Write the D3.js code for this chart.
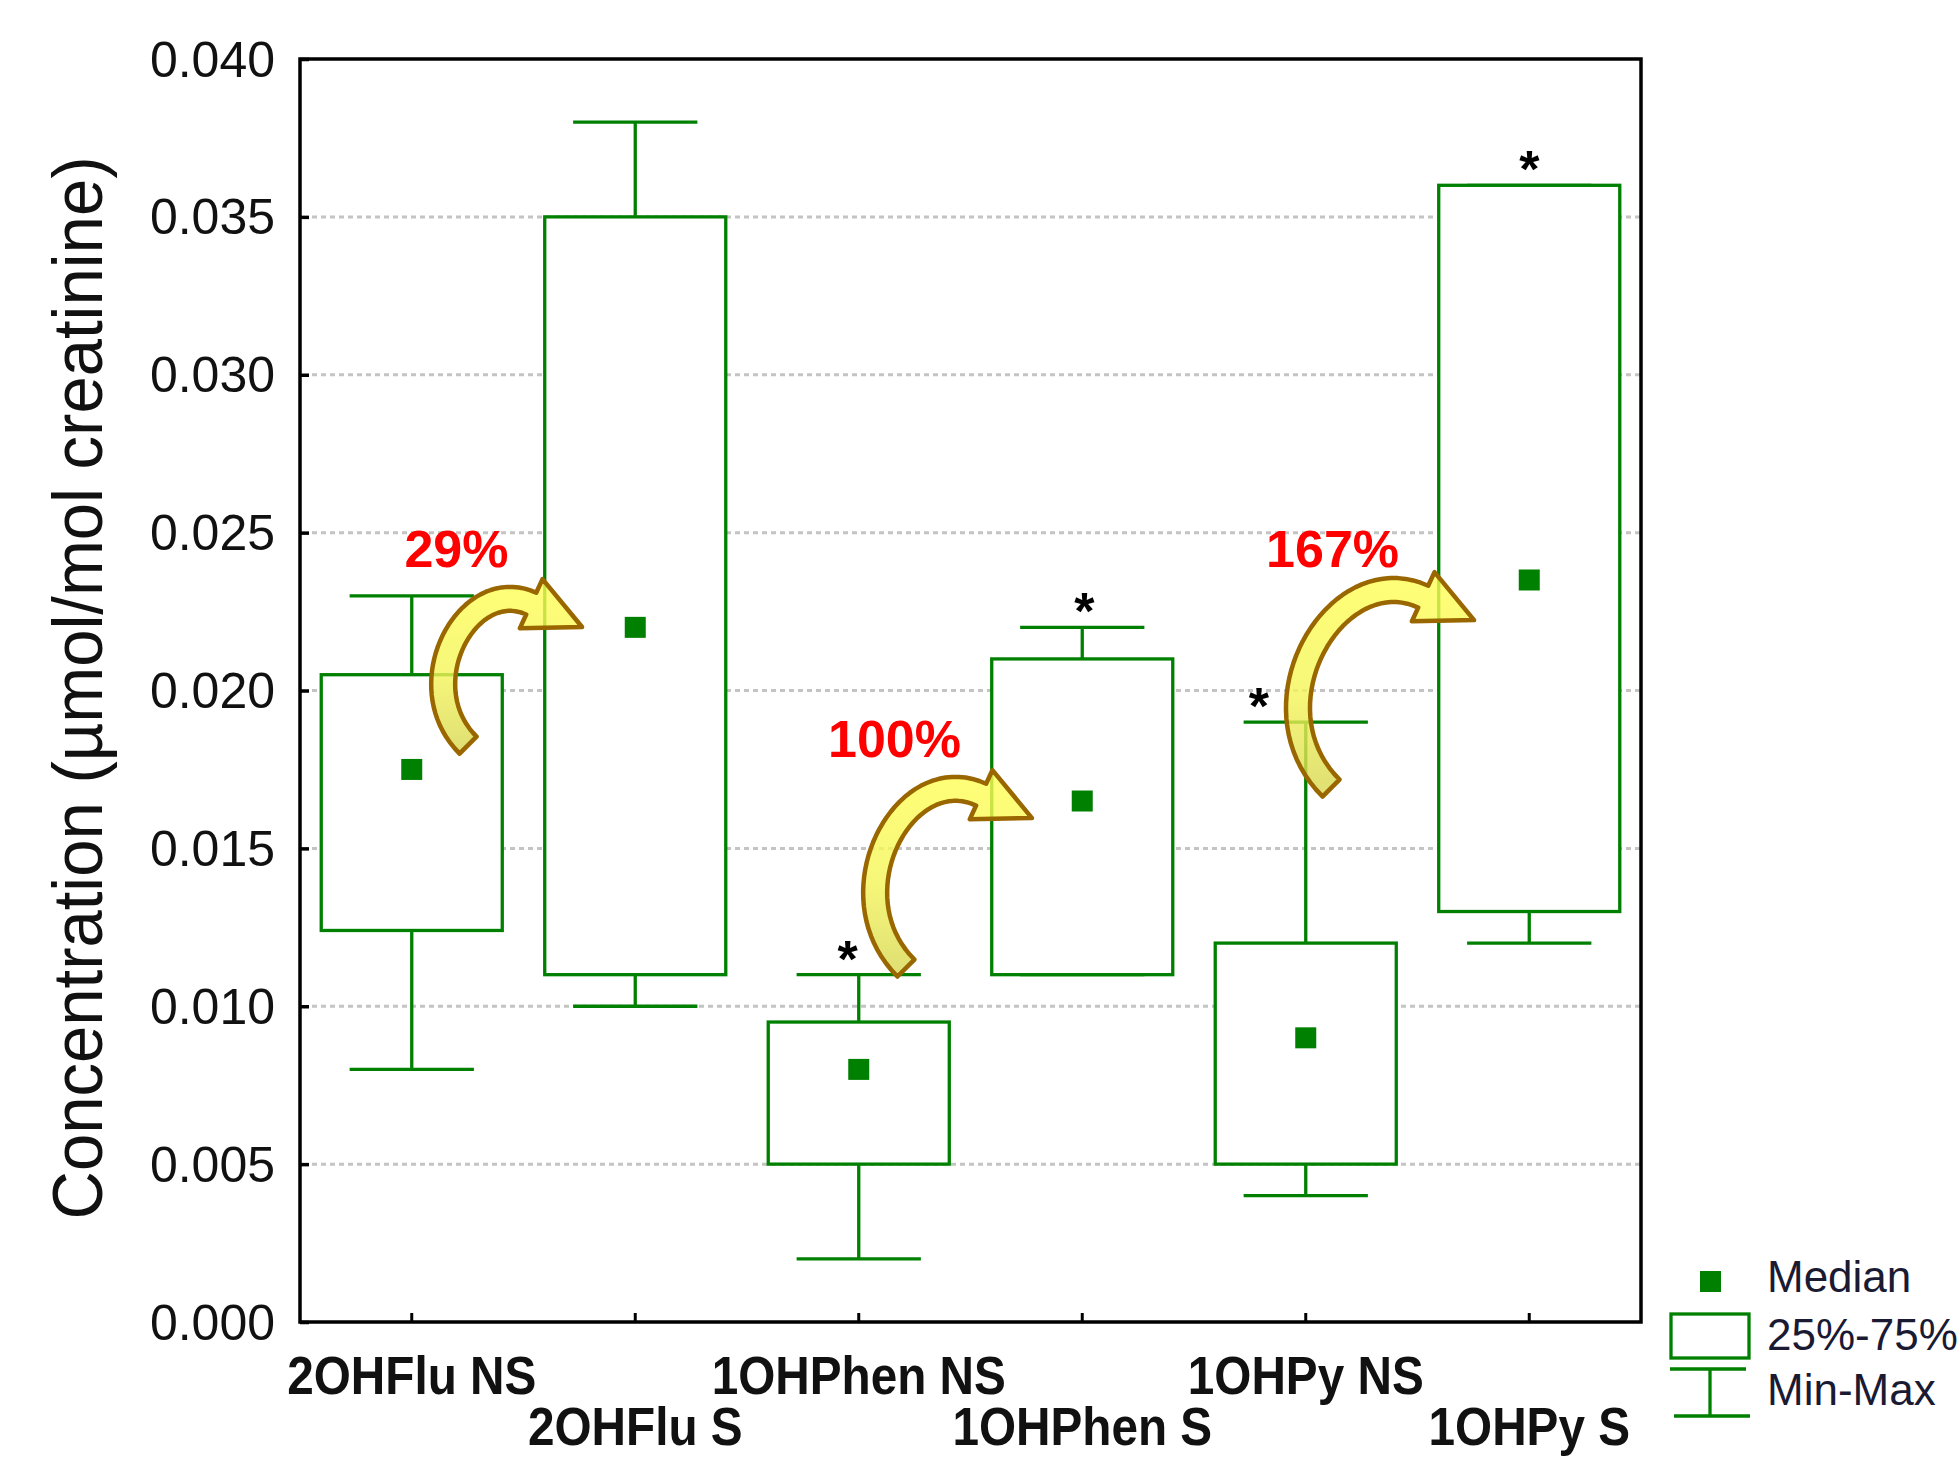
<!DOCTYPE html>
<html>
<head>
<meta charset="utf-8">
<script src="https://cdn.jsdelivr.net/npm/d3@7"></script>
<style>
  body { margin: 0; background: #fff; }
  svg { display: block; font-family: Arial, 'Liberation Sans', sans-serif; }
</style>
</head>
<body>
<svg id="chart" width="1960" height="1458"></svg>
<script>
// Box plot data
const categories = ['2OHFlu NS', '2OHFlu S', '1OHPhen NS', '1OHPhen S', '1OHPy NS', '1OHPy S']
const minVals = [0.008, 0.010, 0.002, 0.011, 0.004, 0.012]
const q1Vals = [0.0124, 0.011, 0.005, 0.011, 0.005, 0.013]
const medianVals = [0.0175, 0.022, 0.008, 0.0165, 0.009, 0.0235]
const q3Vals = [0.0205, 0.035, 0.0095, 0.021, 0.012, 0.036]
const maxVals = [0.023, 0.038, 0.011, 0.022, 0.019, 0.036]
const significant = [false, false, true, true, true, true]
const yTicks = [0, 0.005, 0.010, 0.015, 0.020, 0.025, 0.030, 0.035, 0.040]

// Annotations: change labels and arrows (category index, value)
const changeLabels = ['29%', '100%', '167%']
const labelAt = [[0.20, 0.0239], [2.16, 0.0179], [4.12, 0.0239]]
const arrowTail = [[0.252, 0.01827], [2.211, 0.01121], [4.113, 0.01691]]
const arrowTip = [[0.762, 0.02201], [2.775, 0.01596], [4.753, 0.02223]]
const starShift = [0, 0, -0.05, 0.01, -0.21, 0]

const green = '#008000'
const svg = d3.select('#chart')
const margin = { top: 59, right: 319, bottom: 136, left: 300 }
const width = 1960 - margin.left - margin.right
const height = 1458 - margin.top - margin.bottom
const g = svg.append('g').attr('transform', 'translate(' + margin.left + ',' + margin.top + ')')

const x = d3.scaleBand().domain(categories).range([0, width]).padding(0)
const xi = d3.scaleLinear().domain([-0.5, categories.length - 0.5]).range([0, width])
const y = d3.scaleLinear().domain([0, 0.04]).range([height, 0])
const bw = x.bandwidth()
const cx = function (i) { return x(categories[i]) + bw / 2 }

// Grid lines
g.append('g')
  .selectAll('line')
  .data(yTicks.filter(function (d) { return d > 0 && d < 0.04 }))
  .enter().append('line')
  .attr('x1', 12).attr('x2', width)
  .attr('y1', function (d) { return y(d) }).attr('y2', function (d) { return y(d) })
  .attr('stroke', '#c4c4c4').attr('stroke-width', 3).attr('stroke-dasharray', '5,4')

// Boxes
const idx = d3.range(categories.length)
const boxes = g.append('g').selectAll('g').data(idx).enter().append('g')
  .attr('stroke', green).attr('stroke-width', 3.3)

boxes.append('line')
  .attr('x1', cx).attr('x2', cx)
  .attr('y1', function (i) { return y(maxVals[i]) }).attr('y2', function (i) { return y(minVals[i]) })
boxes.append('line')
  .attr('x1', function (i) { return cx(i) - bw * 0.278 }).attr('x2', function (i) { return cx(i) + bw * 0.278 })
  .attr('y1', function (i) { return y(maxVals[i]) }).attr('y2', function (i) { return y(maxVals[i]) })
boxes.append('line')
  .attr('x1', function (i) { return cx(i) - bw * 0.278 }).attr('x2', function (i) { return cx(i) + bw * 0.278 })
  .attr('y1', function (i) { return y(minVals[i]) }).attr('y2', function (i) { return y(minVals[i]) })
boxes.append('rect')
  .attr('x', function (i) { return cx(i) - bw * 0.405 })
  .attr('width', bw * 0.81)
  .attr('y', function (i) { return y(q3Vals[i]) })
  .attr('height', function (i) { return y(q1Vals[i]) - y(q3Vals[i]) })
  .attr('fill', '#fff')
boxes.append('rect')
  .attr('x', function (i) { return cx(i) - 10.5 })
  .attr('y', function (i) { return y(medianVals[i]) - 10.5 })
  .attr('width', 21).attr('height', 21)
  .attr('fill', green).attr('stroke', 'none')

// Significance stars
g.append('g')
  .selectAll('text')
  .data(idx.filter(function (i) { return significant[i] }))
  .enter().append('text')
  .attr('x', function (i) { return xi(i + starShift[i]) })
  .attr('y', function (i) { return y(maxVals[i]) + 2 })
  .attr('text-anchor', 'middle')
  .attr('font-size', 52).attr('font-weight', 'bold')
  .text('*')

// Curved arrows
const defs = svg.append('defs')
const grad = defs.append('linearGradient').attr('id', 'arrowFill')
  .attr('x1', 0).attr('y1', 0).attr('x2', 0).attr('y2', 1)
grad.append('stop').attr('offset', '0%').attr('stop-color', '#ffff55')
grad.append('stop').attr('offset', '55%').attr('stop-color', '#f4f458')
grad.append('stop').attr('offset', '100%').attr('stop-color', '#d6d650')

function arrowPath (tail, tip) {
  const dir = [0.908, 0.418]
  const headLen = 56
  const hh = 27
  const hw = 12
  const B = [tip[0] - headLen * dir[0], tip[1] - headLen * dir[1]]
  const dist = Math.hypot(B[0] - tail[0], B[1] - tail[1])
  const a = 0.55 * dist
  const c = 0.45 * dist
  const P0 = tail
  const P1 = [tail[0] - a * 0.707, tail[1] - a * 0.707]
  const P2 = [B[0] - c * dir[0], B[1] - c * dir[1]]
  const P3 = B
  const left = []
  const right = []
  let nEnd = [0, 0]
  for (let k = 0; k <= 40; k++) {
    const t = k / 40
    const u = 1 - t
    const px = u * u * u * P0[0] + 3 * u * u * t * P1[0] + 3 * u * t * t * P2[0] + t * t * t * P3[0]
    const py = u * u * u * P0[1] + 3 * u * u * t * P1[1] + 3 * u * t * t * P2[1] + t * t * t * P3[1]
    const tx = 3 * u * u * (P1[0] - P0[0]) + 6 * u * t * (P2[0] - P1[0]) + 3 * t * t * (P3[0] - P2[0])
    const ty = 3 * u * u * (P1[1] - P0[1]) + 6 * u * t * (P2[1] - P1[1]) + 3 * t * t * (P3[1] - P2[1])
    const len = Math.hypot(tx, ty)
    const n = [-ty / len, tx / len]
    left.push([px + hw * n[0], py + hw * n[1]])
    right.push([px - hw * n[0], py - hw * n[1]])
    nEnd = n
  }
  const pts = left.concat([
    [B[0] + hh * nEnd[0], B[1] + hh * nEnd[1]],
    tip,
    [B[0] - hh * nEnd[0], B[1] - hh * nEnd[1]]
  ]).concat(right.reverse())
  return d3.line()(pts) + 'Z'
}

g.append('g')
  .selectAll('path')
  .data(d3.range(arrowTail.length))
  .enter().append('path')
  .attr('d', function (i) {
    return arrowPath([xi(arrowTail[i][0]), y(arrowTail[i][1])], [xi(arrowTip[i][0]), y(arrowTip[i][1])])
  })
  .attr('fill', 'url(#arrowFill)').attr('fill-opacity', 0.8)
  .attr('stroke', '#996600').attr('stroke-width', 4.5).attr('stroke-linejoin', 'round')

// Percentage labels
g.append('g')
  .selectAll('text')
  .data(changeLabels)
  .enter().append('text')
  .attr('x', function (d, i) { return xi(labelAt[i][0]) })
  .attr('y', function (d, i) { return y(labelAt[i][1]) })
  .attr('text-anchor', 'middle')
  .attr('font-size', 52).attr('font-weight', 'bold')
  .attr('fill', '#ff0000')
  .text(function (d) { return d })

// Y-axis
const yAxis = g.append('g')
  .call(d3.axisLeft(y).tickValues(yTicks).tickFormat(d3.format('.3f')).tickSize(-9).tickPadding(25).tickSizeOuter(0))
yAxis.select('.domain').remove()
yAxis.selectAll('.tick line').attr('stroke', '#000').attr('stroke-width', 3.5)
yAxis.selectAll('.tick text')
  .attr('font-size', 50).attr('font-family', 'Arial, Liberation Sans, sans-serif')
  .attr('fill', '#111').attr('dy', '0.34em')

// X-axis
const xAxis = g.append('g')
  .attr('transform', 'translate(0,' + height + ')')
  .call(d3.axisBottom(x).tickSize(-9).tickFormat('').tickSizeOuter(0))
xAxis.select('.domain').remove()
xAxis.selectAll('.tick line').attr('stroke', '#000').attr('stroke-width', 3)

g.append('g')
  .selectAll('text')
  .data(idx)
  .enter().append('text')
  .attr('transform', function (i) {
    return 'translate(' + cx(i) + ',' + (height + (i % 2 === 0 ? 72 : 123)) + ') scale(0.9,1)'
  })
  .attr('text-anchor', 'middle')
  .attr('font-size', 53).attr('font-weight', 'bold')
  .attr('fill', '#111')
  .text(function (i) { return categories[i] })

// Frame
g.append('rect')
  .attr('width', width).attr('height', height)
  .attr('fill', 'none').attr('stroke', '#000').attr('stroke-width', 3.5)

// Y-axis title
svg.append('text')
  .attr('transform', 'translate(102,688) rotate(-90)')
  .attr('text-anchor', 'middle')
  .attr('font-size', 71)
  .attr('textLength', 1063).attr('lengthAdjust', 'spacingAndGlyphs')
  .attr('fill', '#111')
  .text('Concentration (µmol/mol creatinine)')

// Legend
const legend = svg.append('g').attr('stroke', green).attr('stroke-width', 3.3)
legend.append('rect').attr('x', 1700).attr('y', 1271).attr('width', 21).attr('height', 21)
  .attr('fill', green).attr('stroke', 'none')
legend.append('rect').attr('x', 1671).attr('y', 1314).attr('width', 78).attr('height', 44).attr('fill', 'none')
legend.append('line').attr('x1', 1670).attr('x2', 1746).attr('y1', 1369).attr('y2', 1369)
legend.append('line').attr('x1', 1710).attr('x2', 1710).attr('y1', 1369).attr('y2', 1416)
legend.append('line').attr('x1', 1674).attr('x2', 1750).attr('y1', 1416).attr('y2', 1416)

const legendLabels = ['Median', '25%-75%', 'Min-Max']
const legendBase = [1292, 1350, 1405]
svg.append('g')
  .selectAll('text')
  .data(legendLabels)
  .enter().append('text')
  .attr('x', 1767)
  .attr('y', function (d, i) { return legendBase[i] })
  .attr('font-size', 44)
  .attr('fill', '#1a1a33')
  .text(function (d) { return d })
</script>
</body>
</html>
